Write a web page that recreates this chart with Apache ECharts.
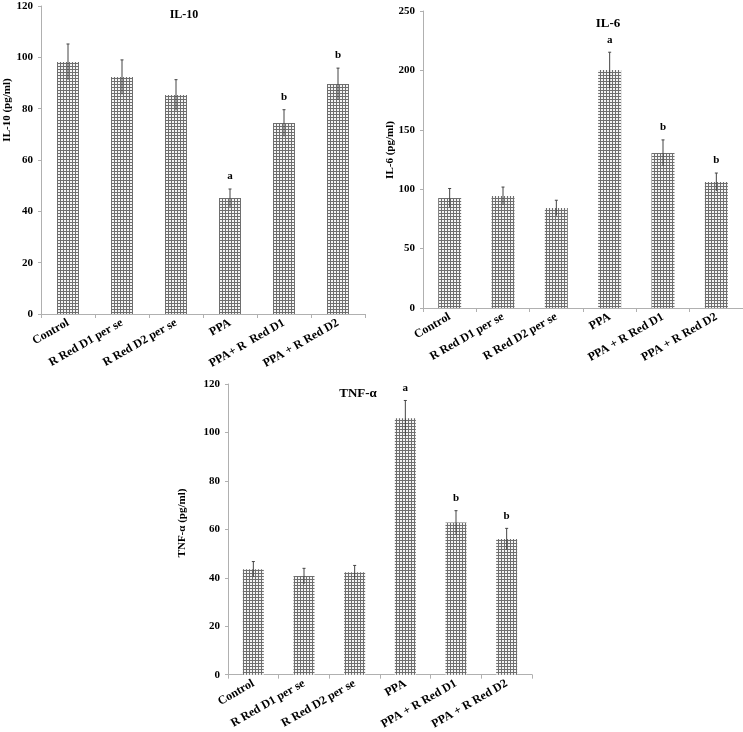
<!DOCTYPE html>
<html>
<head>
<meta charset="utf-8">
<script src="https://cdn.jsdelivr.net/npm/echarts@6/dist/echarts.min.js"></script>
<style>
html,body{margin:0;padding:0;background:#fff;}
#chart{width:743px;height:732px;}
</style>
</head>
<body>
<div id="chart"></div>
<script>
// ---- data ----
const catsIL10 = ['Control', 'R Red D1 per se', 'R Red D2 per se', 'PPA', 'PPA+ R  Red D1', 'PPA + R Red D2'];
const catsIL6 = ['Control', 'R Red D1 per se', 'R Red D2 per se', 'PPA', 'PPA + R Red D1', 'PPA + R Red D2'];
const catsTNF = ['Control', 'R Red D1 per se', 'R Red D2 per se', 'PPA', 'PPA + R Red D1', 'PPA + R Red D2'];

const il10 = [98.2, 92.3, 85.3, 45.2, 74.4, 89.6];
const il10Err = [7.0, 6.7, 6.0, 3.5, 5.2, 6.2];
const il6 = [92.6, 94.3, 84.2, 200.3, 130.5, 106.0];
const il6Err = [8.0, 7.5, 6.5, 15.0, 11.0, 7.6];
const tnf = [43.5, 40.7, 42.3, 105.9, 62.8, 56.0];
const tnfErr = [3.2, 3.2, 2.8, 7.3, 4.9, 4.4];

const lettersIL10 = ['', '', '', 'a', 'b', 'b'];
const lettersIL6 = ['', '', '', 'a', 'b', 'b'];
const lettersTNF = ['', '', '', 'a', 'b', 'b'];

// ---- style ----
const FONT = '"Liberation Serif", "Times New Roman", serif';

function makePattern() {
  const c = document.createElement('canvas');
  c.width = 3; c.height = 3;
  const ctx = c.getContext('2d');
  ctx.fillStyle = '#f4f4f4';
  ctx.fillRect(0, 0, 3, 3);
  ctx.fillStyle = '#6e6e6e';
  ctx.fillRect(0, 0, 3, 1);
  ctx.fillRect(0, 0, 1, 3);
  return { image: c, repeat: 'repeat' };
}
const pattern = makePattern();

const chart = echarts.init(document.getElementById('chart'), null, { renderer: 'canvas' });

function xAxisCfg(cats, gi) {
  return {
    type: 'category', gridIndex: gi, data: cats,
    axisLine: { lineStyle: { color: '#b0b0b0', width: 1 } },
    axisTick: { show: true, alignWithLabel: false, length: 4, lineStyle: { color: '#b0b0b0' } },
    axisLabel: { rotate: 30, interval: 0, margin: 8, color: '#000', fontFamily: FONT, fontWeight: 'bold', fontSize: 12 }
  };
}
function yAxisCfg(gi, max, interval) {
  return {
    type: 'value', gridIndex: gi, min: 0, max: max, interval: interval,
    splitLine: { show: false },
    axisLine: { show: true, lineStyle: { color: '#b0b0b0', width: 1 } },
    axisTick: { show: true, length: 3, lineStyle: { color: '#b0b0b0' } },
    axisLabel: { color: '#000', fontFamily: FONT, fontWeight: 'bold', fontSize: 11, margin: 8 }
  };
}
function barSeries(vals, gi, bw) {
  return {
    type: 'bar', xAxisIndex: gi, yAxisIndex: gi, data: vals, barWidth: bw,
    itemStyle: { color: pattern },
    silent: true, animation: false
  };
}
function errSeries(vals, errs, letters, gi) {
  return {
    type: 'custom', xAxisIndex: gi, yAxisIndex: gi,
    data: vals.map((v, i) => [i, v, errs[i]]),
    animation: false, silent: true, z: 5,
    renderItem: function (params, api) {
      const i = api.value(0), v = api.value(1), e = api.value(2);
      const top = api.coord([i, v + e]);
      const bot = api.coord([i, v - e]);
      const children = [
        { type: 'line', shape: { x1: top[0], y1: top[1], x2: bot[0], y2: bot[1] }, style: { stroke: '#444', lineWidth: 1 } },
        { type: 'line', shape: { x1: top[0] - 1.5, y1: top[1], x2: top[0] + 1.5, y2: top[1] }, style: { stroke: '#444', lineWidth: 1 } }
      ];
      const lt = letters[params.dataIndex];
      if (lt) {
        children.push({
          type: 'text', x: top[0], y: top[1] - 7,
          style: { text: lt, fill: '#000', font: 'bold 11px ' + FONT, align: 'center', verticalAlign: 'bottom' }
        });
      }
      return { type: 'group', children: children };
    }
  };
}

const option = {
  animation: false,
  backgroundColor: '#ffffff',
  title: [
    { text: 'IL-10', left: 179, top: 4, textAlign: 'center', textStyle: { fontFamily: FONT, fontWeight: 'bold', fontSize: 12, color: '#000' } },
    { text: 'IL-6', left: 603, top: 12, textAlign: 'center', textStyle: { fontFamily: FONT, fontWeight: 'bold', fontSize: 13, color: '#000' } },
    { text: 'TNF-α', left: 353, top: 382, textAlign: 'center', textStyle: { fontFamily: FONT, fontWeight: 'bold', fontSize: 13, color: '#000' } }
  ],
  grid: [
    { left: 41, top: 6, width: 324, height: 308 },
    { left: 423, top: 11, width: 320, height: 297 },
    { left: 228, top: 384, width: 304, height: 298 }
  ],
  xAxis: [xAxisCfg(catsIL10, 0), xAxisCfg(catsIL6, 1), xAxisCfg(catsTNF, 2)],
  yAxis: [yAxisCfg(0, 120, 20), yAxisCfg(1, 250, 50), yAxisCfg(2, 120, 20)],
  graphic: [
    { type: 'text', x: 7, y: 110, rotation: Math.PI / 2, style: { text: 'IL-10 (pg/ml)', font: 'bold 11px ' + FONT, fill: '#000', align: 'center', verticalAlign: 'middle' } },
    { type: 'text', x: 390, y: 150, rotation: Math.PI / 2, style: { text: 'IL-6 (pg/ml)', font: 'bold 11px ' + FONT, fill: '#000', align: 'center', verticalAlign: 'middle' } },
    { type: 'text', x: 182, y: 523, rotation: Math.PI / 2, style: { text: 'TNF-α (pg/ml)', font: 'bold 11px ' + FONT, fill: '#000', align: 'center', verticalAlign: 'middle' } }
  ],
  series: [
    barSeries(il10, 0, 22), errSeries(il10, il10Err, lettersIL10, 0),
    barSeries(il6, 1, 23), errSeries(il6, il6Err, lettersIL6, 1),
    barSeries(tnf, 2, 21), errSeries(tnf, tnfErr, lettersTNF, 2)
  ]
};
chart.setOption(option);
</script>
</body>
</html>
